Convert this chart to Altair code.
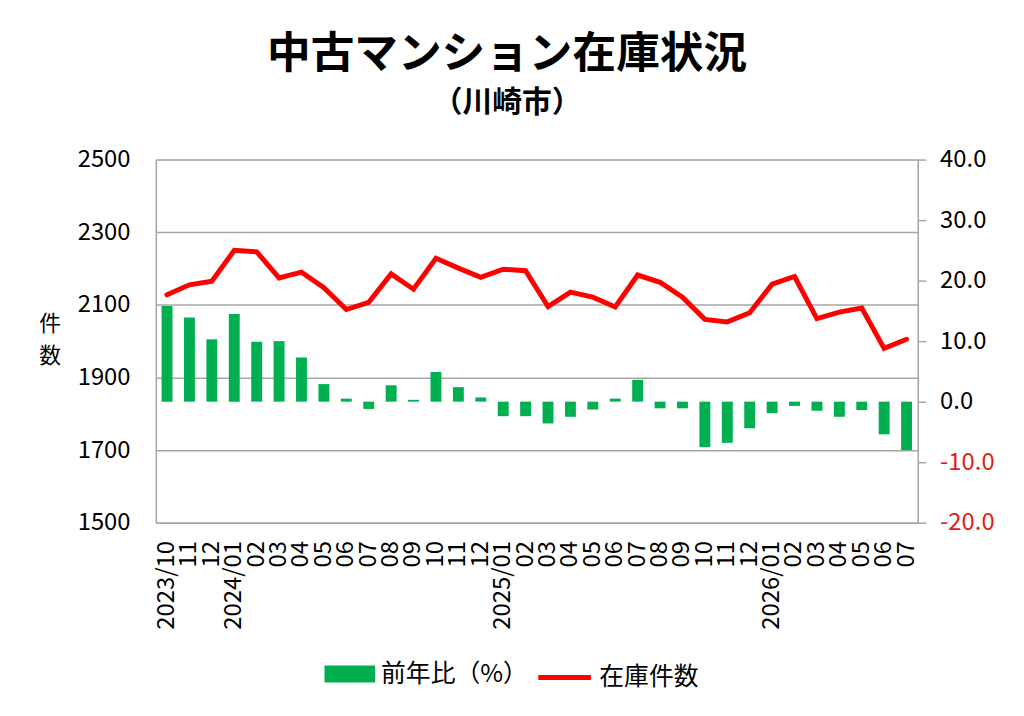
import altair as alt
import pandas as pd

months = ["2023/10", "2023/11", "2023/12", "2024/01", "2024/02", "2024/03", "2024/04", "2024/05",
          "2024/06", "2024/07", "2024/08", "2024/09", "2024/10", "2024/11", "2024/12", "2025/01",
          "2025/02", "2025/03", "2025/04", "2025/05", "2025/06", "2025/07", "2025/08", "2025/09",
          "2025/10", "2025/11", "2025/12", "2026/01", "2026/02", "2026/03", "2026/04", "2026/05",
          "2026/06", "2026/07"]
tick_labels = ["2023/10", "11", "12", "2024/01", "02", "03", "04", "05", "06", "07", "08", "09",
               "10", "11", "12", "2025/01", "02", "03", "04", "05", "06", "07", "08", "09",
               "10", "11", "12", "2026/01", "02", "03", "04", "05", "06", "07"]
inventory = [2128, 2155, 2165, 2250, 2246, 2174, 2190, 2147, 2087, 2107, 2185, 2143, 2228, 2201,
             2176, 2198, 2194, 2095, 2135, 2121, 2094, 2182, 2162, 2121, 2060, 2053, 2078, 2157,
             2178, 2062, 2080, 2091, 1980, 2005]
yoy = [15.8, 13.9, 10.3, 14.5, 9.9, 10.0, 7.3, 2.9, 0.5, -1.2, 2.7, 0.3, 4.9, 2.4, 0.7, -2.4,
       -2.4, -3.6, -2.5, -1.3, 0.5, 3.6, -1.1, -1.1, -7.5, -6.8, -4.4, -1.9, -0.7, -1.5, -2.5,
       -1.4, -5.4, -8.0]

bar_name = "前年比（%）"
line_name = "在庫件数"

df = pd.DataFrame({"month": months, "inventory": inventory, "yoy": yoy})

FONT = "Noto Sans CJK JP"
GRAY = "#a6a6a6"
GREEN = "#00b050"
RED = "#ff0000"

months_js = "[" + ",".join("'%s'" % m for m in months) + "]"
labels_js = "[" + ",".join("'%s'" % t for t in tick_labels) + "]"
label_expr = "%s[indexof(%s, datum.value)]" % (labels_js, months_js)

x = alt.X("month:N", sort=months, title=None,
          scale=alt.Scale(paddingInner=0, paddingOuter=0),
          axis=alt.Axis(labelAngle=-90, labelExpr=label_expr, ticks=False, labelPadding=18,
                        domainColor=GRAY, domainWidth=1.5, labelFont=FONT, labelFontSize=24,
                        labelColor="black"))

base = alt.Chart(df)

bars = base.transform_calculate(series="'%s'" % bar_name).mark_bar(size=11).encode(
    x=x,
    y=alt.Y("yoy:Q", title=None,
            scale=alt.Scale(domain=[-20, 40], nice=False, zero=False),
            axis=alt.Axis(orient="right", values=[-20, -10, 0, 10, 20, 30, 40], grid=False,
                          labelExpr="(datum.value < 0 ? '-' : '') + format(abs(datum.value), '.1f')",
                          labelColor=alt.condition("datum.value < 0", alt.value("#e0201b"), alt.value("black")),
                          tickSize=8, tickColor=GRAY, tickWidth=1.5, domainColor=GRAY, domainWidth=1.5,
                          labelPadding=14, labelFont=FONT, labelFontSize=24)),
    fill=alt.Fill("series:N", scale=alt.Scale(domain=[bar_name], range=[GREEN]),
                  legend=alt.Legend(title=None, orient="none", legendX=170, legendY=493,
                                    symbolType="M-1,-0.34H1V0.34H-1Z", symbolSize=2601,
                                    symbolStrokeWidth=0, labelFont=FONT, labelFontSize=25,
                                    labelOffset=6, labelColor="black")),
)

line = base.transform_calculate(series2="'%s'" % line_name).mark_line(strokeWidth=5, strokeCap="round", strokeJoin="miter").encode(
    x=x,
    y=alt.Y("inventory:Q", title=["件", "数"],
            scale=alt.Scale(domain=[1500, 2500], nice=False, zero=False),
            axis=alt.Axis(orient="left", values=[1500, 1700, 1900, 2100, 2300, 2500], format="d",
                          grid=True, gridColor=GRAY, gridWidth=1.5, ticks=False, tickSize=0,
                          domainColor=GRAY, domainWidth=1.5, labelPadding=26,
                          labelFont=FONT, labelFontSize=24, labelColor="black",
                          titleAngle=0, titleX=-107, titleY=155, titleAlign="center",
                          titleBaseline="top", titleFont=FONT, titleFontSize=22,
                          titleFontWeight="normal", titleLineHeight=33, titleColor="black")),
    stroke=alt.Stroke("series2:N", scale=alt.Scale(domain=[line_name], range=[RED]),
                      legend=alt.Legend(title=None, orient="none", legendX=383, legendY=493,
                                        symbolType="M-1,0H1", symbolSize=2809,
                                        symbolStrokeWidth=5, labelFont=FONT, labelFontSize=25,
                                        labelOffset=6, labelColor="black")),
)

chart = alt.layer(bars, line).resolve_scale(y="independent", fill="independent", stroke="independent").properties(
    width=768,
    height=366,
    autosize=alt.AutoSizeParams(type="none"),
    padding={"left": 149, "top": 150, "right": 99, "bottom": 184},
    title=alt.TitleParams(text="中古マンション在庫状況", subtitle="（川崎市）",
                          anchor="middle", frame="group", dx=-30, offset=30,
                          font=FONT, fontSize=44, fontWeight="bold", color="black",
                          subtitleFont=FONT, subtitleFontSize=30, subtitleFontWeight="bold",
                          subtitleColor="black", subtitlePadding=11),
).configure_view(stroke=None).configure(background="white")

chart.save("out.html", embed_options={"renderer": "svg", "actions": False})
